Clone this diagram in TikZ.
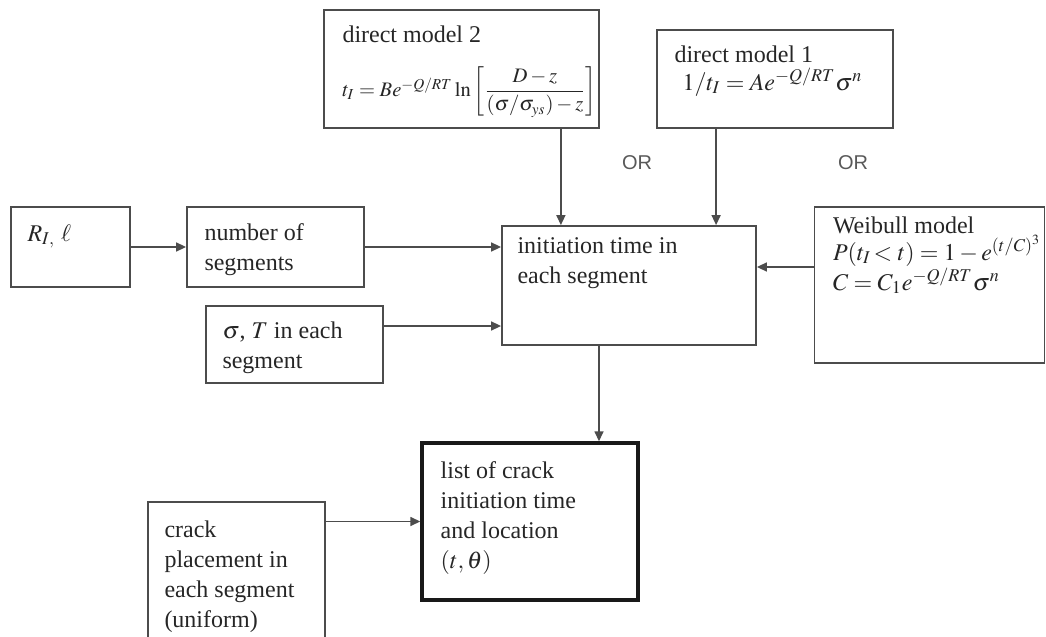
\documentclass[tikz,border=0pt]{standalone}
\usepackage{amsmath}
\usepackage{mathptmx}
\usepackage{fontspec}
\setmainfont{Liberation Serif}
\newfontfamily\orfont{Liberation Sans}
\usetikzlibrary{arrows.meta}

\begin{document}
\begin{tikzpicture}[
		x=0.5pt, y=-0.5pt,
		box/.style={draw=black!70, line width=0.9pt, inner sep=0pt},
		thickbox/.style={draw=black!90, line width=1.7pt, inner sep=0pt},
		txt/.style={anchor=north west, align=left, inner sep=0pt, text=black!85,
			font=\fontsize{12}{15}\selectfont, execute at begin node=\strut},
		eq/.style={anchor=base west, inner sep=0pt, text=black!85, font=\fontsize{12}{15}\selectfont},
		arr/.style={draw=black!70, line width=0.75pt, -{Triangle[length=5pt,width=4.5pt]}},
		ortxt/.style={text=black!65, font=\orfont\fontsize{10}{12}\selectfont}
	]
	\useasboundingbox (0,0) rectangle (1046,637);
	
	% boxes
	\node[box, minimum width=59.5pt, minimum height=40pt] (ri) at (70.5,247) {};
	\node[box, minimum width=88.5pt, minimum height=40pt] (num) at (275.5,247) {};
	\node[box, minimum width=88.5pt, minimum height=38.5pt] (sig) at (294.5,344.5) {};
	\node[box, minimum width=137.5pt, minimum height=59pt] (dm2) at (461.5,69) {};
	\node[box, minimum width=118pt, minimum height=49pt] (dm1) at (775,79) {};
	\node[box, minimum width=127pt, minimum height=59.5pt] (init) at (629,285.5) {};
	\node[box, minimum width=115pt, minimum height=78pt] (weib) at (929.5,285) {};
	\node[thickbox, minimum width=108pt, minimum height=78.5pt] (list) at (530,521.5) {};
	\node[box, minimum width=88.5pt, minimum height=79pt] (crack) at (236.5,581) {};
	
	% texts
	\node[eq] (riT) at ([shift={(8.5pt,-17.5pt)}]ri.north west) {$R_{I,}\ \ell$};
	\node[txt] (numT) at ([shift={(9pt,-8.5pt)}]num.north west) {number of\\segments};
	\node[txt] (sigT) at ([shift={(8.5pt,-8pt)}]sig.north west) {$\sigma$, $T$ in each\\segment};
	\node[eq] (dm2T) at ([shift={(9.5pt,-16.5pt)}]dm2.north west) {direct model 2};
	\node[eq, anchor=west, font=\fontsize{10.3}{12}\selectfont] (dm2F) at ([shift={(9.5pt,-41.5pt)}]dm2.north west)
		{$t_I = Be^{-Q/RT}\ln\left[\dfrac{D-z}{(\sigma/\sigma_{ys})-z}\right]$};
	\node[eq] (dm1T) at ([shift={(9pt,-16.5pt)}]dm1.north west) {direct model 1};
	\node[eq] (dm1F) at ([shift={(13pt,-30.5pt)}]dm1.north west) {$1/t_I = Ae^{-Q/RT}\sigma^n$};
	\node[txt] (initT) at ([shift={(8pt,-6pt)}]init.north west) {initiation time in\\each segment};
	\node[eq] (weibT) at ([shift={(9.5pt,-13.5pt)}]weib.north west) {Weibull model};
	\node[eq] (weibF1) at ([shift={(9.5pt,-27pt)}]weib.north west) {$P(t_I\!<t) = 1-e^{(t/C)^3}$};
	\node[eq] (weibF2) at ([shift={(9.5pt,-42pt)}]weib.north west) {$C = C_1e^{-Q/RT}\sigma^n$};
	\node[txt] (listT) at ([shift={(10pt,-10pt)}]list.north west) {list of crack\\initiation time\\and location\\$(t,\theta)$};
	\node[txt] (crackT) at ([shift={(8.5pt,-9.5pt)}]crack.north west) {crack\\placement in\\each segment\\(uniform)};
	\node[ortxt] (or1) at (637,163) {OR};
	\node[ortxt] (or2) at (853,163) {OR};
	
	% arrows
	\coordinate (sigout) at ([yshift=9.25pt]sig.east);
	\coordinate (dm2out) at ([xshift=-19.5pt]dm2.south east);
	\coordinate (dm1out) at ([xshift=30pt]dm1.south west);
	\coordinate (weibout) at ([yshift=9pt]weib.west);
	\coordinate (initout) at ([xshift=-15pt]init.south);
	
	\draw[arr] (ri.east) -- (num.west);
	\draw[arr] (num.east) -- (num.east -| init.west);
	\draw[arr] (sigout) -- (sigout -| init.west);
	\draw[arr] (dm2out) -- (dm2out |- init.north);
	\draw[arr] (dm1out) -- (dm1out |- init.north);
	\draw[arr] (weibout) -- (weibout -| init.east);
	\draw[arr] (initout) -- (initout |- list.north);
	\draw[arr] (crack.east |- list.west) -- (list.west);
\end{tikzpicture}
\end{document}
